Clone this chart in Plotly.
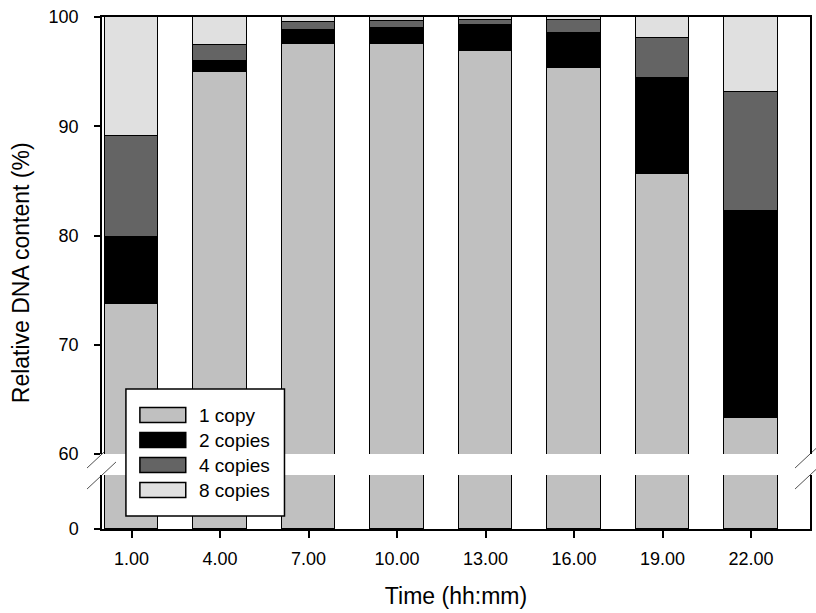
import plotly.graph_objects as go

# Sampling times (h) and their axis labels
times = [1, 4, 7, 10, 13, 16, 19, 22]
time_labels = ["1.00", "4.00", "7.00", "10.00", "13.00", "16.00", "19.00", "22.00"]

# Share of cells (%) by DNA copy number at each time point
one_copy = [73.7, 95.0, 97.5, 97.5, 96.9, 95.35, 85.6, 63.3]
two_copies = [6.2, 1.0, 1.3, 1.5, 2.4, 3.2, 8.8, 18.9]
four_copies = [9.2, 1.4, 0.75, 0.6, 0.4, 1.15, 3.7, 10.9]
eight_copies = [10.9, 2.6, 0.45, 0.4, 0.3, 0.3, 1.9, 6.9]

series_names = ["1 copy", "2 copies", "4 copies", "8 copies"]
series_values = [one_copy, two_copies, four_copies, eight_copies]
series_colors = ["#c0c0c0", "#000000", "#646464", "#e0e0e0"]

FONT = "Liberation Sans, Arial, sans-serif"
W, H = 816, 613
ML, MR, MT, MB = 102, 4, 17, 84
PW, PH = W - ML - MR, H - MT - MB


def px_x(px):
    return (px - ML) / PW


def px_y(py):
    return (H - MB - py) / PH


fig = go.Figure()

# Same stacked bars in the lower (0 ...) and upper (60-100) panels of the broken axis
for xa, ya in (("x", "y"), ("x2", "y2")):
    for name, vals, col in zip(series_names, series_values, series_colors):
        fig.add_trace(go.Bar(
            x=times, y=vals, name=name, width=1.8,
            marker=dict(color=col, line=dict(color="black", width=1.5)),
            xaxis=xa, yaxis=ya, showlegend=False,
        ))

upper_bottom = px_y(454)
lower_top = px_y(475)

axis_common = dict(showline=True, linecolor="black", linewidth=1.5,
                   showgrid=False, zeroline=False,
                   tickfont=dict(family=FONT, size=18, color="black"))

fig.update_layout(
    width=W, height=H,
    margin=dict(l=ML, r=MR, t=MT, b=MB),
    paper_bgcolor="white", plot_bgcolor="rgba(0,0,0,0)",
    barmode="stack", bargap=0,
    showlegend=False,
    font=dict(family=FONT, color="black"),
    xaxis=dict(**axis_common, domain=[0, 1], anchor="y", range=[0, 24],
               tickmode="array", tickvals=times, ticktext=time_labels,
               ticks="outside", ticklen=7, tickwidth=1.5, tickcolor="black",
               ticklabelstandoff=6,
               title=dict(text="Time (hh:mm)", font=dict(family=FONT, size=23),
                          standoff=20)),
    xaxis2=dict(**axis_common, domain=[0, 1], anchor="y2", range=[0, 24],
                side="top", showticklabels=False, ticks=""),
    yaxis=dict(**axis_common, domain=[0, lower_top], anchor="x", range=[0, 4.94],
               mirror=True, tickmode="array", tickvals=[0],
               ticks="outside", ticklen=6, tickwidth=1.5, tickcolor="black",
               ticklabelstandoff=12),
    yaxis2=dict(**axis_common, domain=[upper_bottom, 1], anchor="x2", range=[60, 100],
                mirror=True, tickmode="array", tickvals=[60, 70, 80, 90, 100],
                ticks="outside", ticklen=6, tickwidth=1.5, tickcolor="black",
                ticklabelstandoff=12),
)

annotations = [
    # y-axis title spans the whole broken axis
    dict(text="Relative DNA content (%)", xref="paper", yref="paper",
         x=px_x(21), y=0.5, xanchor="center", yanchor="middle", textangle=-90,
         showarrow=False, font=dict(family=FONT, size=23, color="black")),
]

# Axis-break slashes on both sides of the gap
shapes = []
for cx in (102, 812):
    for cy in (454, 475):
        shapes.append(dict(type="line", xref="paper", yref="paper",
                           x0=px_x(cx - 15), y0=px_y(cy + 14),
                           x1=px_x(cx + 14), y1=px_y(cy - 13),
                           line=dict(color="#505050", width=1), layer="below"))

# Legend box with wide swatches
shapes.append(dict(type="rect", xref="paper", yref="paper",
                   x0=px_x(126), x1=px_x(285), y0=px_y(516), y1=px_y(389),
                   fillcolor="white", line=dict(color="black", width=1.5),
                   layer="above"))
row_centers = [415, 440, 465, 490]
for name, col, cy in zip(series_names, series_colors, row_centers):
    shapes.append(dict(type="rect", xref="paper", yref="paper",
                       x0=px_x(140), x1=px_x(186), y0=px_y(cy + 7.5), y1=px_y(cy - 7.5),
                       fillcolor=col, line=dict(color="black", width=1.5),
                       layer="above"))
    annotations.append(dict(text=name, xref="paper", yref="paper",
                            x=px_x(197), y=px_y(cy), xanchor="left", yanchor="middle",
                            showarrow=False,
                            font=dict(family=FONT, size=19, color="black")))

fig.update_layout(shapes=shapes, annotations=annotations)

fig.write_html("out.html")
